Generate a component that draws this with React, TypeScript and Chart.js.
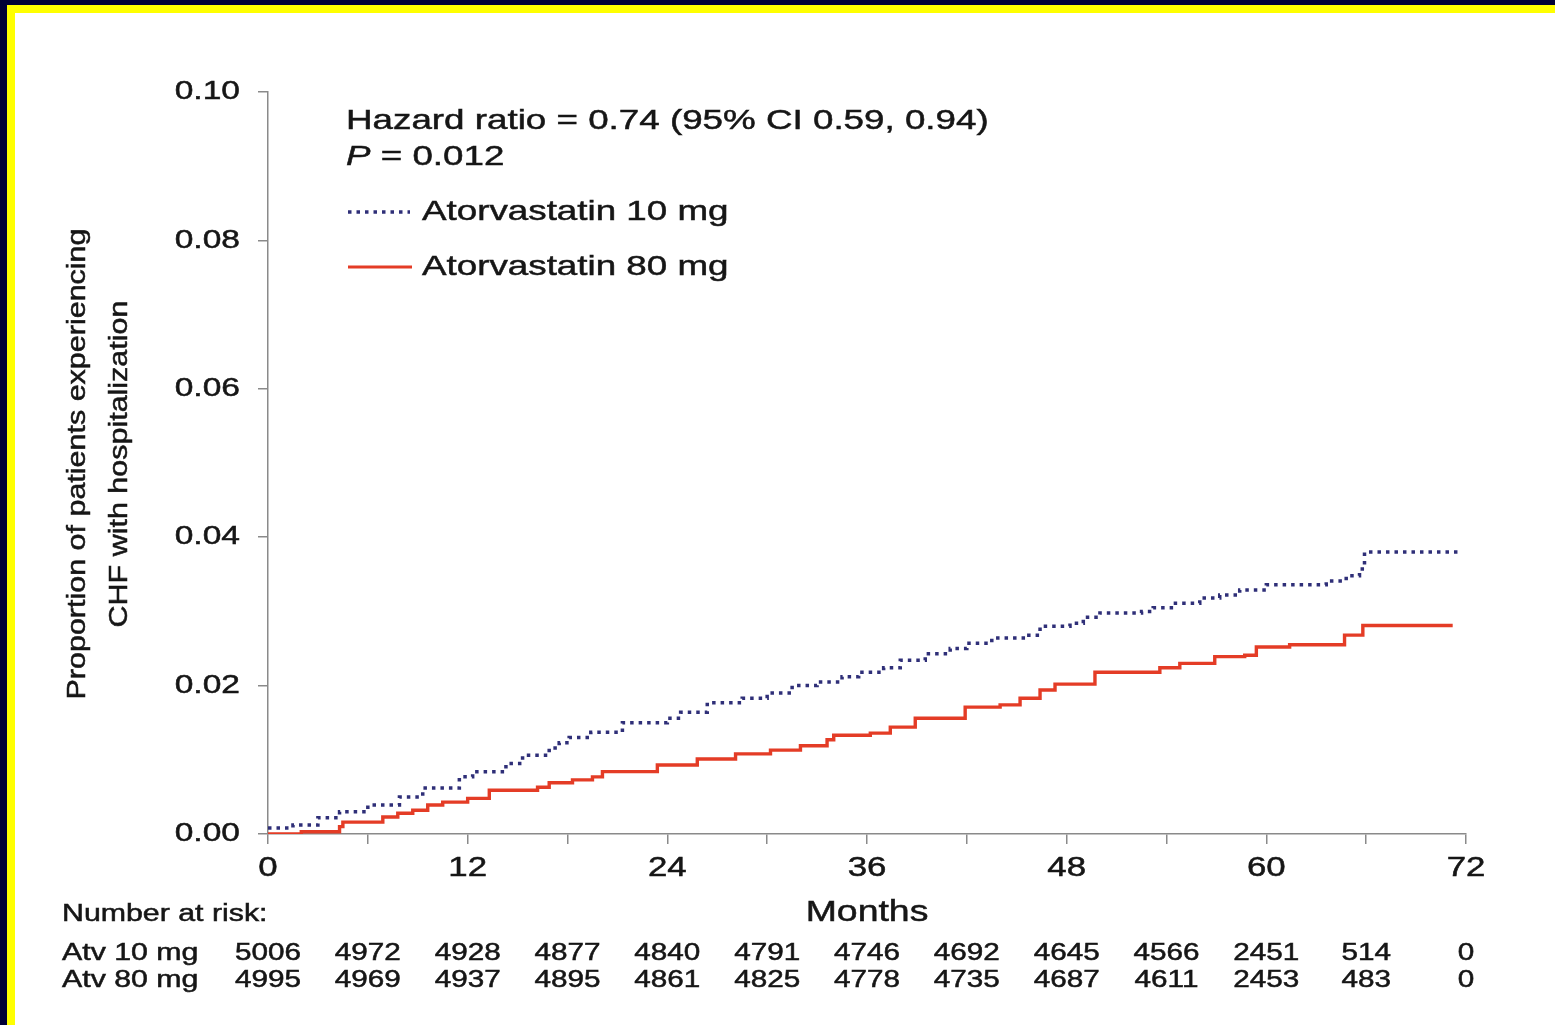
import { useEffect, useRef } from "react";
import { Chart, registerables } from "chart.js";

Chart.register(...registerables);

// Axis ticks
const yTickValues = [0, 0.02, 0.04, 0.06, 0.08, 0.1];
const xTickValues = [0, 12, 24, 36, 48, 60, 72];

// Kaplan-Meier cumulative incidence, Atorvastatin 10 mg (month of step, proportion)
const atv10Months = [
  0, 1.5, 3, 4.3, 6, 7.9, 9.3, 11.5, 12.3, 14.3, 15.3, 16.9, 17.5, 18.1, 19.4, 21.3,
  24, 24.8, 26.4, 28.5, 30, 31.5, 33, 34.5, 35.5, 37, 38, 39.5, 41, 42, 43.5, 45.5,
  46.4, 48.2, 49, 50, 52.5, 53.2, 54.4, 56, 57.2, 58.4, 60, 63.6, 64.8, 65.6, 65.9, 71.5,
];
const atv10Values = [
  0.0008, 0.0012, 0.0022, 0.003, 0.0039, 0.005, 0.0062, 0.0077, 0.0084, 0.0095, 0.0106,
  0.0116, 0.0123, 0.013, 0.0137, 0.015, 0.0156, 0.0164, 0.0177, 0.0183, 0.019, 0.02,
  0.0205, 0.0212, 0.0218, 0.0224, 0.0234, 0.0243, 0.025, 0.0257, 0.0264, 0.0268, 0.028,
  0.0284, 0.0292, 0.0298, 0.03, 0.0305, 0.0311, 0.0318, 0.0322, 0.0329, 0.0336, 0.0341,
  0.0348, 0.0357, 0.038, 0.038,
];

// Kaplan-Meier cumulative incidence, Atorvastatin 80 mg
const atv80Months = [
  0, 2, 4.3, 4.5, 6.9, 7.8, 8.7, 9.6, 10.5, 12, 13.3, 16.2, 16.9, 18.3, 19.5, 20.1,
  23.4, 25.8, 28.1, 30.2, 32, 33.6, 34, 36.2, 37.4, 38.9, 41.9, 44, 45.2, 46.4, 47.3,
  49.7, 53.6, 54.8, 56.9, 58.7, 59.4, 61.4, 64.7, 65.8, 71.2,
];
const atv80Values = [
  0, 0.0003, 0.001, 0.0016, 0.0023, 0.0028, 0.0032, 0.0039, 0.0043, 0.0048, 0.0059,
  0.0063, 0.0069, 0.0073, 0.0077, 0.0084, 0.0093, 0.0101, 0.0108, 0.0113, 0.0119,
  0.0127, 0.0133, 0.0136, 0.0144, 0.0156, 0.0171, 0.0174, 0.0183, 0.0194, 0.0202,
  0.0218, 0.0224, 0.023, 0.0239, 0.0241, 0.0252, 0.0255, 0.0268, 0.0281, 0.0281,
];

// Number at risk table
const riskMonths = [0, 6, 12, 18, 24, 30, 36, 42, 48, 54, 60, 66, 72];
const atRisk10 = [5006, 4972, 4928, 4877, 4840, 4791, 4746, 4692, 4645, 4566, 2451, 514, 0];
const atRisk80 = [4995, 4969, 4937, 4895, 4861, 4825, 4778, 4735, 4687, 4611, 2453, 483, 0];

const seriesNames = ["Atorvastatin 10 mg", "Atorvastatin 80 mg"];
const rowNames = ["Atv 10 mg", "Atv 80 mg"];
const yTitleLines = ["Proportion of patients experiencing", "CHF with hospitalization"];

const BLUE = "#2f2f78";
const RED = "#e43c26";
const INK = "#161616";
const AXIS = "#8a8a8a";
const FONT = '"Liberation Sans", Arial, Helvetica, sans-serif';
const SX = 1.29; // wide lettering
const SX_TITLE = 1.15; // stretch along the rotated axis title

function drawText(
  ctx: CanvasRenderingContext2D,
  s: string,
  x: number,
  y: number,
  size: number,
  align: CanvasTextAlign = "left",
  style = ""
) {
  ctx.save();
  ctx.font = `${style} ${size}px ${FONT}`.trim();
  ctx.fillStyle = INK;
  ctx.strokeStyle = INK;
  ctx.lineWidth = 0.5;
  ctx.translate(x, y);
  ctx.scale(SX, 1);
  ctx.textAlign = align;
  ctx.textBaseline = "middle";
  ctx.fillText(s, 0, 0);
  ctx.strokeText(s, 0, 0);
  ctx.restore();
}

function textWidth(ctx: CanvasRenderingContext2D, s: string, size: number, style = "") {
  ctx.save();
  ctx.font = `${style} ${size}px ${FONT}`.trim();
  const w = ctx.measureText(s).width * SX;
  ctx.restore();
  return w;
}

const framePlugin = {
  id: "frame",
  beforeDraw(chart: any) {
    const { ctx, width, height } = chart;
    ctx.save();
    ctx.fillStyle = "#ffffff";
    ctx.fillRect(0, 0, width, height);
    ctx.fillStyle = "#000036";
    ctx.fillRect(0, 0, width, 5);
    ctx.fillRect(0, 0, 7, height);
    ctx.fillStyle = "#ffff00";
    ctx.fillRect(7, 5, width - 7, 8);
    ctx.fillRect(7, 5, 8, height - 5);
    ctx.restore();
  },
};

const labelsPlugin = {
  id: "kmLabels",
  afterDraw(chart: any) {
    const { ctx, chartArea } = chart;
    const xs = chart.scales.x;
    const ys = chart.scales.y;
    const L = chartArea.left;

    // tick labels
    yTickValues.forEach((v) => {
      drawText(ctx, v.toFixed(2), L - 28, ys.getPixelForValue(v), 26, "right");
    });
    xTickValues.forEach((v) => {
      drawText(ctx, String(v), xs.getPixelForValue(v), chartArea.bottom + 35, 27, "center");
    });

    // axis titles
    drawText(ctx, "Months", (chartArea.left + chartArea.right) / 2, chartArea.bottom + 79, 29, "center");
    ctx.save();
    ctx.fillStyle = INK;
    ctx.strokeStyle = INK;
    ctx.lineWidth = 0.5;
    ctx.font = `26.5px ${FONT}`;
    ctx.translate(99, (chartArea.top + chartArea.bottom) / 2 + 1);
    ctx.rotate(-Math.PI / 2);
    ctx.scale(SX_TITLE, 1);
    ctx.textAlign = "center";
    ctx.textBaseline = "middle";
    ctx.fillText(yTitleLines[0], 0, -21);
    ctx.strokeText(yTitleLines[0], 0, -21);
    ctx.fillText(yTitleLines[1], 0, 21);
    ctx.strokeText(yTitleLines[1], 0, 21);
    ctx.restore();

    // statistics
    const ax = L + 78;
    drawText(ctx, "Hazard ratio = 0.74 (95% CI 0.59, 0.94)", ax, 121, 28.5);
    drawText(ctx, "P", ax, 157, 28.5, "left", "italic");
    drawText(ctx, " = 0.012", ax + textWidth(ctx, "P", 28.5, "italic"), 157, 28.5);

    // legend
    const ly = [212, 267];
    ctx.save();
    ctx.strokeStyle = BLUE;
    ctx.lineWidth = 3.5;
    ctx.setLineDash([3.5, 5]);
    ctx.beginPath();
    ctx.moveTo(ax + 2, ly[0]);
    ctx.lineTo(ax + 64, ly[0]);
    ctx.stroke();
    ctx.setLineDash([]);
    ctx.strokeStyle = RED;
    ctx.lineWidth = 3.2;
    ctx.beginPath();
    ctx.moveTo(ax + 2, ly[1]);
    ctx.lineTo(ax + 66, ly[1]);
    ctx.stroke();
    ctx.restore();
    drawText(ctx, seriesNames[0], ax + 76, ly[0], 28.5);
    drawText(ctx, seriesNames[1], ax + 76, ly[1], 28.5);

    // number at risk
    drawText(ctx, "Number at risk:", 62, 915, 23.5);
    const rows = [atRisk10, atRisk80];
    const rowY = [954, 981];
    rows.forEach((row, r) => {
      drawText(ctx, rowNames[r], 62, rowY[r], 23.5);
      row.forEach((n, i) => {
        drawText(ctx, String(n), xs.getPixelForValue(riskMonths[i]), rowY[r], 23, "center");
      });
    });
  },
};

export default function App() {
  const canvasRef = useRef<HTMLCanvasElement | null>(null);

  useEffect(() => {
    const canvas = canvasRef.current;
    if (!canvas) return;
    const chart = new Chart(canvas, {
      type: "line",
      data: {
        datasets: [
          {
            label: seriesNames[0],
            data: atv10Months.map((m, i) => ({ x: m, y: atv10Values[i] })),
            borderColor: BLUE,
            borderWidth: 3.5,
            borderDash: [3.5, 5],
            borderCapStyle: "butt",
            stepped: true,
            pointRadius: 0,
            fill: false,
          },
          {
            label: seriesNames[1],
            data: atv80Months.map((m, i) => ({ x: m, y: atv80Values[i] })),
            borderColor: RED,
            borderWidth: 3.4,
            stepped: true,
            pointRadius: 0,
            fill: false,
          },
        ],
      },
      options: {
        animation: false,
        responsive: false,
        devicePixelRatio: 1,
        layout: { padding: { left: 0, top: 92, right: 89, bottom: 131 } },
        plugins: { legend: { display: false }, tooltip: { enabled: false } },
        scales: {
          x: {
            type: "linear",
            min: 0,
            max: 72,
            ticks: { display: false, stepSize: 6 },
            grid: {
              display: true,
              drawOnChartArea: false,
              drawTicks: true,
              tickLength: 10,
              color: AXIS,
              lineWidth: 1.5,
            },
            border: { display: true, color: AXIS, width: 1.5 },
            afterFit: (s: any) => {
              s.height = 60;
            },
          },
          y: {
            type: "linear",
            min: 0,
            max: 0.1,
            ticks: { display: false, stepSize: 0.02 },
            grid: {
              display: true,
              drawOnChartArea: false,
              drawTicks: true,
              tickLength: 10,
              color: AXIS,
              lineWidth: 1.5,
            },
            border: { display: true, color: AXIS, width: 1.5 },
            afterFit: (s: any) => {
              s.width = 268;
            },
          },
        },
      } as any,
      plugins: [framePlugin, labelsPlugin],
    });
    return () => chart.destroy();
  }, []);

  return (
    <div style={{ position: "absolute", left: 0, top: 0, width: 1555, height: 1025, background: "#fff" }}>
      <canvas ref={canvasRef} width={1555} height={1025} style={{ display: "block" }} />
    </div>
  );
}
